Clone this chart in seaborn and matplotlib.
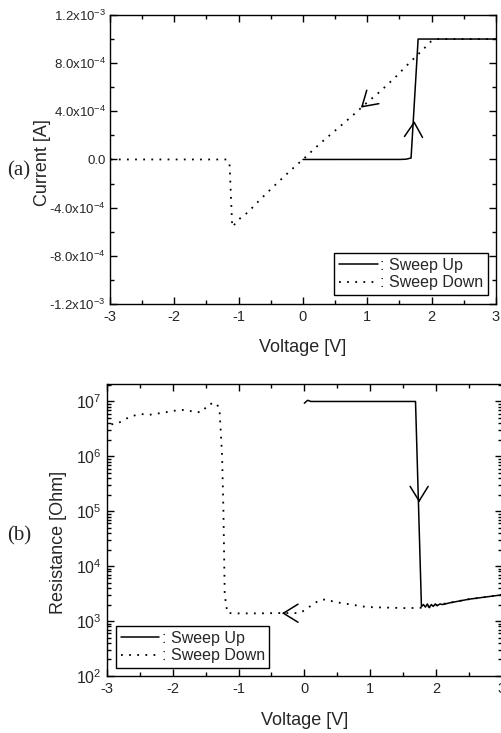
import numpy as np
import pandas as pd
import matplotlib
matplotlib.use("Agg")
import matplotlib.pyplot as plt
import seaborn as sns
from matplotlib.ticker import MultipleLocator, FixedLocator, FixedFormatter, LogLocator, NullFormatter

# ---------------- data: (a) current vs voltage ----------------
v_up_iv = [0.0, 0.5, 1.0, 1.5, 1.6, 1.68, 1.79, 2.0, 2.5, 3.0]
i_up_iv = [0.0, 0.05e-6, 0.1e-6, 0.15e-6, 2e-6, 1.2e-5, 1.0e-3, 1.0e-3, 1.0e-3, 1.0e-3]

v_down_iv = [3.0, 2.5, 2.1, 1.99, 1.88, 1.65, 1.43, 1.21, 0.99, 0.74, 0.5, 0.26, 0.04,
             -0.17, -0.41, -0.66, -0.86, -0.98, -1.10, -1.14, -1.18, -1.5, -2.0, -2.5, -3.0]
i_down_iv = [1.0e-3, 1.0e-3, 1.0e-3, 0.98e-3, 0.92e-3, 0.80e-3, 0.68e-3, 0.57e-3, 0.47e-3,
             0.35e-3, 0.24e-3, 0.13e-3, 0.02e-3, -0.08e-3, -0.20e-3, -0.33e-3, -0.44e-3,
             -0.49e-3, -0.56e-3, -0.05e-3, 0.0, 0.0, 0.0, 0.0, 0.0]

i_ticks = [-1.2e-3, -8.0e-4, -4.0e-4, 0.0, 4.0e-4, 8.0e-4, 1.2e-3]
i_tick_labels = [r"-1.2x10$^{-3}$", r"-8.0x10$^{-4}$", r"-4.0x10$^{-4}$", "0.0",
                 r"4.0x10$^{-4}$", r"8.0x10$^{-4}$", r"1.2x10$^{-3}$"]

# ---------------- data: (b) resistance vs voltage ----------------
v_up_r = [0.0, 0.05, 0.1, 0.5, 1.0, 1.5, 1.69, 1.78, 1.81, 1.84, 1.87, 1.90, 1.93,
          1.96, 1.99, 2.02, 2.06, 2.10, 2.22, 2.5, 3.0]
r_up = [9.3e6, 1.05e7, 1.0e7, 1.0e7, 1.0e7, 1.0e7, 1.0e7, 1.83e3, 2.0e3, 1.8e3, 2.05e3,
        1.75e3, 2.0e3, 1.85e3, 2.05e3, 1.9e3, 2.05e3, 2.0e3, 2.16e3, 2.5e3, 3.0e3]

v_down_r = [3.0, 2.5, 2.2, 1.8, 1.56, 0.95, 0.44, 0.35, 0.23, 0.11, 0.03, -0.07, -0.37,
            -0.7, -1.0, -1.17, -1.21, -1.23, -1.25, -1.27, -1.29, -1.34, -1.46, -1.55,
            -1.66, -1.78, -1.89, -2.01, -2.15, -2.25, -2.36, -2.48, -2.6, -2.72, -2.85, -3.0]
r_down = [3.0e3, 2.5e3, 2.15e3, 1.75e3, 1.72e3, 1.8e3, 2.25e3, 2.5e3, 2.4e3, 1.95e3, 1.64e3,
          1.4e3, 1.4e3, 1.38e3, 1.38e3, 1.4e3, 3.0e3, 1.0e5, 1.0e6, 2.8e6, 7.3e6, 9.4e6,
          8.9e6, 6.5e6, 6.3e6, 7.0e6, 7.0e6, 6.7e6, 6.2e6, 6.0e6, 5.7e6, 5.9e6, 5.5e6,
          4.8e6, 3.9e6, 3.8e6]

legend_labels = [": Sweep Up", ": Sweep Down"]

# arrow tips (data coords) and direction offsets (points)
arrow_a_up = (1.73, 3.2e-4);   arrow_a_up_dir = (-0.1, -2.0)
arrow_a_down = (0.9, 4.3e-4);  arrow_a_down_dir = (1.5, 1.35)
arrow_b_down = (1.745, 1.45e5); arrow_b_down_dir = (0.0, 2.0)
arrow_b_left = (-0.34, 1.39e3); arrow_b_left_dir = (2.0, 0.0)

# ---------------- style ----------------
sns.set_style("ticks")
plt.rcParams["font.family"] = ["Liberation Sans", "DejaVu Sans"]
plt.rcParams["mathtext.fontset"] = "custom"
plt.rcParams["mathtext.rm"] = "Liberation Sans"
plt.rcParams["mathtext.it"] = "Liberation Sans:italic"
plt.rcParams["mathtext.bf"] = "Liberation Sans:bold"
plt.rcParams["axes.unicode_minus"] = False
plt.rcParams["axes.edgecolor"] = "black"
plt.rcParams["axes.linewidth"] = 1.0

solid_kw = dict(color="black", linewidth=1.1, linestyle="-")
dot_kw = dict(color="black", linewidth=1.3, linestyle=(0, (1, 3.5)))

fig = plt.figure(figsize=(5.02, 7.33), dpi=100)
ax1 = fig.add_axes([0.2191, 0.5853, 0.7689, 0.3943])
ax2 = fig.add_axes([0.2131, 0.0778, 0.7863, 0.3980])

df_up_iv = pd.DataFrame({"V": v_up_iv, "I": i_up_iv})
df_down_iv = pd.DataFrame({"V": v_down_iv, "I": i_down_iv})
df_up_r = pd.DataFrame({"V": v_up_r, "R": r_up})
df_down_r = pd.DataFrame({"V": v_down_r, "R": r_down})

sns.lineplot(data=df_up_iv, x="V", y="I", sort=False, estimator=None, ax=ax1,
             label=legend_labels[0], **solid_kw)
sns.lineplot(data=df_down_iv, x="V", y="I", sort=False, estimator=None, ax=ax1,
             label=legend_labels[1], **dot_kw)

sns.lineplot(data=df_up_r, x="V", y="R", sort=False, estimator=None, ax=ax2,
             label=legend_labels[0], **solid_kw)
sns.lineplot(data=df_down_r, x="V", y="R", sort=False, estimator=None, ax=ax2,
             label=legend_labels[1], **dot_kw)

# ---- axes (a)
ax1.set_xlim(-3, 3)
ax1.set_ylim(-1.2e-3, 1.2e-3)
ax1.xaxis.set_major_locator(MultipleLocator(1))
ax1.xaxis.set_minor_locator(MultipleLocator(0.5))
ax1.yaxis.set_major_locator(FixedLocator(i_ticks))
ax1.yaxis.set_major_formatter(FixedFormatter(i_tick_labels))
ax1.yaxis.set_minor_locator(MultipleLocator(2e-4))

# ---- axes (b)
ax2.set_yscale("log")
ax2.set_xlim(-3, 3)
ax2.set_ylim(1e2, 2.06e7)
ax2.xaxis.set_major_locator(MultipleLocator(1))
ax2.xaxis.set_minor_locator(MultipleLocator(0.5))
ax2.yaxis.set_major_locator(LogLocator(base=10, numticks=10))
ax2.yaxis.set_minor_locator(LogLocator(base=10, subs=np.arange(2, 10), numticks=20))
ax2.yaxis.set_minor_formatter(NullFormatter())

for ax in (ax1, ax2):
    ax.tick_params(which="both", direction="in", top=True, right=True, color="black",
                   width=1.0, pad=4)
    ax.tick_params(which="major", length=5)
    ax.tick_params(which="minor", length=3)
    ax.tick_params(axis="x", which="major", labelsize=10.5)
    for s in ax.spines.values():
        s.set_color("black")
        s.set_linewidth(1.0)

ax1.tick_params(axis="y", which="major", labelsize=9.5, pad=3)
ax2.tick_params(axis="y", which="major", labelsize=11.5, pad=4)

ax1.set_xlabel("Voltage [V]", fontsize=13)
ax1.set_ylabel("Current [A]", fontsize=13)
ax2.set_xlabel("Voltage [V]", fontsize=13)
ax2.set_ylabel("Resistance [Ohm]", fontsize=13)
for ax, xl, yl in ((ax1, (0.5, -0.149), (-0.174, 0.488)), (ax2, (0.5, -0.151), (-0.124, 0.459))):
    ax.xaxis.label.set_va("center")
    ax.yaxis.label.set_va("center")
    ax.xaxis.set_label_coords(*xl)
    ax.yaxis.set_label_coords(*yl)

# legends
leg_kw = dict(fontsize=11.5, frameon=True, fancybox=False, framealpha=1, edgecolor="black",
              handlelength=2.4, handletextpad=0.15, borderpad=0.3, labelspacing=0.15,
              borderaxespad=0)
l1 = ax1.legend(loc="lower right", bbox_to_anchor=(0.979, 0.031), **leg_kw)
l2 = ax2.legend(loc="lower left", bbox_to_anchor=(0.023, 0.027), **leg_kw)
for lg in (l1, l2):
    lg.get_frame().set_linewidth(1.0)

# arrowheads
arrowprops = dict(arrowstyle="->,head_length=1.05,head_width=0.65", color="black", lw=1.1,
                  shrinkA=0, shrinkB=0, mutation_scale=10)
for ax, tip, d in ((ax1, arrow_a_up, arrow_a_up_dir), (ax1, arrow_a_down, arrow_a_down_dir),
                   (ax2, arrow_b_down, arrow_b_down_dir), (ax2, arrow_b_left, arrow_b_left_dir)):
    ax.annotate("", xy=tip, xycoords="data", xytext=d, textcoords="offset points",
                arrowprops=arrowprops)

# panel letters
fig.text(7 / 502, 1 - 171 / 733, "(a)", ha="left", va="center",
         family=["Liberation Serif", "DejaVu Serif"], fontsize=15)
fig.text(7 / 502, 1 - 536 / 733, "(b)", ha="left", va="center",
         family=["Liberation Serif", "DejaVu Serif"], fontsize=15)

fig.savefig("out.png", dpi=100)
